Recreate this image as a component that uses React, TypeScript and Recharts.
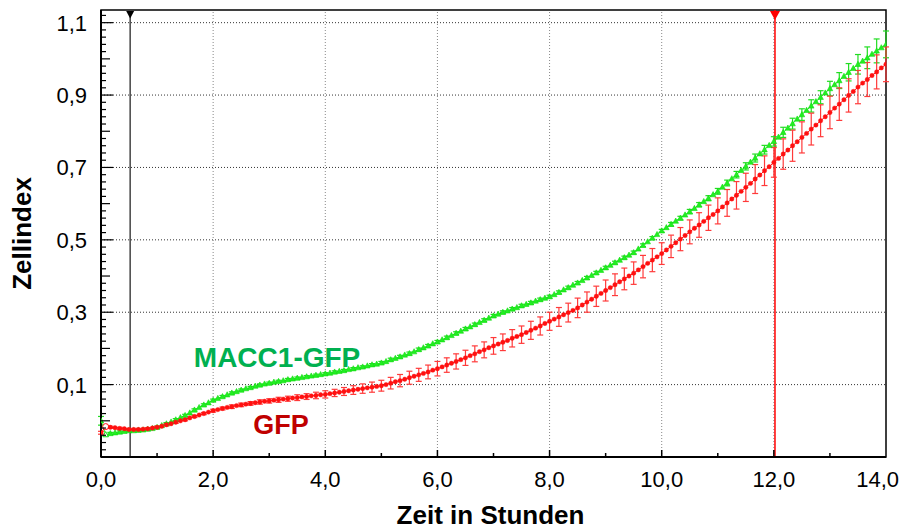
import React from 'react';
import { LineChart, Line, XAxis, YAxis, ErrorBar, ReferenceLine, ReferenceArea, ReferenceDot } from 'recharts';

// one reading every 5 minutes, 0 h .. 14 h
const STEP_HOURS = 5 / 60;

// GFP (red), one row per hour
const gfp = [
  -0.033, -0.016, -0.018, -0.019, -0.021, -0.022, -0.024, -0.024, -0.024, -0.023, -0.022, -0.020,
  -0.018, -0.015, -0.011, -0.008, -0.004, 0.000, 0.003, 0.008, 0.012, 0.016, 0.020, 0.024,
  0.028, 0.031, 0.034, 0.037, 0.039, 0.042, 0.044, 0.046, 0.048, 0.050, 0.052, 0.054,
  0.055, 0.057, 0.058, 0.060, 0.061, 0.063, 0.064, 0.066, 0.067, 0.069, 0.070, 0.072,
  0.073, 0.075, 0.077, 0.079, 0.081, 0.083, 0.085, 0.087, 0.089, 0.091, 0.093, 0.095,
  0.097, 0.100, 0.104, 0.108, 0.111, 0.115, 0.119, 0.123, 0.127, 0.131, 0.135, 0.140,
  0.144, 0.149, 0.154, 0.159, 0.164, 0.169, 0.174, 0.180, 0.185, 0.191, 0.196, 0.202,
  0.207, 0.212, 0.217, 0.222, 0.228, 0.233, 0.238, 0.244, 0.250, 0.256, 0.262, 0.269,
  0.275, 0.281, 0.287, 0.293, 0.299, 0.305, 0.312, 0.320, 0.328, 0.336, 0.344, 0.352,
  0.360, 0.368, 0.376, 0.384, 0.392, 0.400, 0.408, 0.417, 0.426, 0.435, 0.444, 0.453,
  0.462, 0.472, 0.482, 0.492, 0.502, 0.512, 0.522, 0.532, 0.541, 0.551, 0.561, 0.570,
  0.580, 0.591, 0.602, 0.613, 0.623, 0.634, 0.645, 0.656, 0.668, 0.679, 0.691, 0.702,
  0.714, 0.725, 0.737, 0.748, 0.760, 0.771, 0.783, 0.794, 0.806, 0.817, 0.829, 0.840,
  0.852, 0.864, 0.875, 0.887, 0.899, 0.910, 0.922, 0.933, 0.943, 0.954, 0.964, 0.975,
  0.985,
];

// GFP standard deviation, every second reading (10 min)
const gfpErr = [
  0.004, 0.003, 0.003, 0.003, 0.003, 0.003,
  0.003, 0.003, 0.003, 0.003, 0.003, 0.003,
  0.004, 0.004, 0.005, 0.005, 0.005, 0.006,
  0.006, 0.007, 0.007, 0.008, 0.008, 0.009,
  0.010, 0.010, 0.011, 0.012, 0.013, 0.014,
  0.015, 0.016, 0.017, 0.018, 0.018, 0.019,
  0.020, 0.020, 0.021, 0.021, 0.022, 0.022,
  0.023, 0.023, 0.024, 0.024, 0.025, 0.025,
  0.025, 0.026, 0.026, 0.027, 0.028, 0.028,
  0.029, 0.030, 0.030, 0.031, 0.031, 0.032,
  0.030, 0.031, 0.032, 0.033, 0.034, 0.035,
  0.036, 0.037, 0.038, 0.039, 0.040, 0.041,
  0.041, 0.042, 0.043, 0.043, 0.044, 0.044,
  0.045, 0.045, 0.046, 0.046, 0.047, 0.047,
  0.048,
];

// MACC1-GFP (green)
const maccGfp = [
  0.000, -0.038, -0.035, -0.033, -0.031, -0.029, -0.027, -0.027, -0.026, -0.025, -0.023, -0.021,
  -0.018, -0.013, -0.008, -0.003, 0.003, 0.009, 0.015, 0.022, 0.030, 0.037, 0.044, 0.050,
  0.057, 0.062, 0.067, 0.072, 0.077, 0.081, 0.085, 0.089, 0.092, 0.096, 0.099, 0.102,
  0.104, 0.107, 0.109, 0.111, 0.114, 0.116, 0.118, 0.120, 0.122, 0.124, 0.126, 0.128,
  0.130, 0.132, 0.135, 0.137, 0.139, 0.142, 0.144, 0.147, 0.149, 0.152, 0.155, 0.157,
  0.160, 0.164, 0.169, 0.173, 0.177, 0.182, 0.186, 0.191, 0.197, 0.202, 0.207, 0.213,
  0.218, 0.224, 0.230, 0.236, 0.242, 0.248, 0.254, 0.260, 0.266, 0.272, 0.278, 0.284,
  0.290, 0.295, 0.300, 0.304, 0.309, 0.313, 0.318, 0.322, 0.326, 0.331, 0.335, 0.339,
  0.343, 0.349, 0.355, 0.362, 0.368, 0.375, 0.381, 0.388, 0.395, 0.402, 0.409, 0.416,
  0.423, 0.430, 0.437, 0.444, 0.451, 0.458, 0.465, 0.475, 0.485, 0.495, 0.505, 0.515,
  0.525, 0.534, 0.543, 0.552, 0.560, 0.569, 0.578, 0.587, 0.597, 0.606, 0.615, 0.625,
  0.634, 0.646, 0.657, 0.669, 0.680, 0.692, 0.703, 0.715, 0.726, 0.738, 0.749, 0.761,
  0.772, 0.784, 0.797, 0.809, 0.821, 0.834, 0.846, 0.858, 0.870, 0.882, 0.894, 0.906,
  0.918, 0.929, 0.940, 0.952, 0.963, 0.974, 0.985, 0.994, 1.003, 1.013, 1.022, 1.031,
  1.040,
];

const maccGfpErr = [
  0.012, 0.003, 0.003, 0.003, 0.003, 0.003,
  0.003, 0.003, 0.003, 0.003, 0.003, 0.003,
  0.003, 0.003, 0.003, 0.003, 0.003, 0.003,
  0.003, 0.003, 0.003, 0.003, 0.003, 0.003,
  0.003, 0.003, 0.003, 0.003, 0.003, 0.003,
  0.004, 0.004, 0.004, 0.004, 0.004, 0.004,
  0.004, 0.004, 0.004, 0.004, 0.004, 0.004,
  0.004, 0.004, 0.004, 0.004, 0.004, 0.004,
  0.004, 0.004, 0.004, 0.004, 0.004, 0.004,
  0.004, 0.004, 0.004, 0.004, 0.004, 0.004,
  0.004, 0.005, 0.005, 0.006, 0.006, 0.007,
  0.008, 0.008, 0.009, 0.010, 0.011, 0.012,
  0.013, 0.014, 0.015, 0.016, 0.017, 0.018,
  0.020, 0.022, 0.024, 0.027, 0.030, 0.033,
  0.037,
];

const xTicks = [0, 1, 2, 3, 4, 5, 6, 7, 8, 9, 10, 11, 12, 13, 14];
const xGridTicks = [2, 4, 6, 8, 10, 12];
const yLabelTicks = [0.1, 0.3, 0.5, 0.7, 0.9, 1.1];
// minor ticks every 0.02
const yTicks = Array.from({ length: 62 }, (_, i) => Math.round((-0.1 + i * 0.02) * 100) / 100);
const startMarker = 0.52;
const endMarker = 12.02;

const data = gfp.map((v, i) => ({
  t: i * STEP_HOURS,
  gfp: v,
  macc: maccGfp[i],
  gfpErr: i % 2 === 0 ? gfpErr[i / 2] : undefined,
  maccErr: i % 2 === 0 ? maccGfpErr[i / 2] : undefined,
}));

const fmt = (v: number) => v.toFixed(1).replace('.', ',');
const FONT = '"Liberation Sans", Arial, sans-serif';

const BottomTick = (props: any) => {
  const { x, y, payload } = props;
  const major = payload.value % 2 === 0;
  const last = payload.value === 14;
  return (
    <g>
      {payload.value > 0 && !last && (
        <line x1={x} x2={x} y1={y} y2={y - (major ? 7 : 4)} stroke="#000" strokeWidth={1.5} />
      )}
      {major && (
        <text x={last ? x + 13 : x} y={y + 30} textAnchor={last ? 'end' : 'middle'} fontSize={22} fill="#000">
          {fmt(payload.value)}
        </text>
      )}
    </g>
  );
};

const TopTick = (props: any) => {
  const { x, y, payload } = props;
  if (payload.value <= 0 || payload.value >= 14) return <g />;
  const major = payload.value % 2 === 0;
  return <line x1={x} x2={x} y1={y} y2={y + (major ? 9 : 5)} stroke="#000" strokeWidth={1.2} />;
};

const LeftTick = (props: any) => {
  const { x, y, payload } = props;
  const k = Math.round(payload.value * 100);
  if (k <= -10) return <g />;
  const labeled = Math.abs(k % 20) === 10;
  const medium = k % 10 === 0;
  const len = labeled ? 12 : medium ? 9 : 5;
  return (
    <g>
      <line x1={x} x2={x + len} y1={y} y2={y} stroke="#000" strokeWidth={1.2} />
      {labeled && (
        <text x={x - 14} y={y + 8} textAnchor="end" fontSize={22} fill="#000">
          {fmt(payload.value)}
        </text>
      )}
    </g>
  );
};

const GreenDot = (props: any) => {
  const { cx, cy, index } = props;
  if (cx == null || cy == null) return <g key={`g${index}`} />;
  const open = index === 1;
  return (
    <polygon
      key={`g${index}`}
      points={`${cx - 2.8},${cy + 2.2} ${cx + 2.8},${cy + 2.2} ${cx},${cy - 3}`}
      fill={open ? '#fff' : '#22ee22'}
      stroke="#11dd11"
      strokeWidth={open ? 1 : 0.6}
    />
  );
};

const RedDot = (props: any) => {
  const { cx, cy, index } = props;
  if (cx == null || cy == null) return <g key={`r${index}`} />;
  const open = index === 1;
  return (
    <circle
      key={`r${index}`}
      cx={cx}
      cy={cy}
      r={open ? 3 : 2.2}
      fill={open ? '#fff' : '#ff1010'}
      stroke="#ff1010"
      strokeWidth={open ? 1 : 0.4}
    />
  );
};

const triangle = (color: string, size: number) => (props: any) => {
  const { viewBox } = props;
  const x = viewBox.x;
  const y = viewBox.y;
  return (
    <polygon
      points={`${x - size},${y + 1} ${x + size},${y + 1} ${x},${y + 2 + size * 1.6}`}
      fill={color}
    />
  );
};

export default function App() {
  return (
    <div style={{ position: 'absolute', left: 0, top: 0, width: 902, height: 531, background: '#fff', fontFamily: FONT }}>
      <LineChart width={902} height={531} data={data} margin={{ top: 10, right: 16, bottom: 0, left: 0 }}>
        <XAxis
          dataKey="t"
          type="number"
          domain={[0, 14]}
          ticks={xTicks}
          interval={0}
          allowDataOverflow
          height={74}
          tickSize={0}
          tickMargin={0}
          tickLine={false}
          axisLine={{ stroke: '#000', strokeWidth: 2 }}
          tick={<BottomTick />}
          label={{
            content: (p: any) => (
              <text
                x={p.viewBox.x + p.viewBox.width / 2 - 3}
                y={p.viewBox.y + 67}
                textAnchor="middle"
                fontSize={26}
                fontWeight="bold"
                fill="#000"
              >
                Zeit in Stunden
              </text>
            ),
          }}
        />
        <XAxis
          xAxisId="top"
          orientation="top"
          type="number"
          domain={[0, 14]}
          ticks={xTicks}
          interval={0}
          height={0}
          tickSize={0}
          tickMargin={0}
          tickLine={false}
          axisLine={false}
          tick={<TopTick />}
        />
        <YAxis
          type="number"
          domain={[-0.1, 1.135]}
          ticks={yTicks}
          interval={0}
          allowDataOverflow
          width={101}
          tickSize={0}
          tickMargin={0}
          tickLine={false}
          axisLine={{ stroke: '#000', strokeWidth: 2 }}
          tick={<LeftTick />}
          label={{
            content: (p: any) => {
              const cx = p.viewBox.x + 31;
              const cy = p.viewBox.y + p.viewBox.height / 2;
              return (
                <text
                  x={cx}
                  y={cy}
                  transform={`rotate(-90 ${cx} ${cy})`}
                  textAnchor="middle"
                  fontSize={26}
                  fontWeight="bold"
                  fill="#000"
                >
                  Zellindex
                </text>
              );
            },
          }}
        />

        {yLabelTicks.map((v) => (
          <ReferenceLine key={`hy${v}`} y={v} stroke="#333" strokeDasharray="1 2" />
        ))}
        {xGridTicks.map((v) => (
          <ReferenceLine key={`vx${v}`} x={v} stroke="#888" strokeDasharray="1 2" />
        ))}
        <ReferenceArea x1={0} x2={14} y1={-0.1} y2={1.135} fill="none" stroke="#000" strokeWidth={1.5} />

        <ReferenceLine x={startMarker} stroke="#444" strokeWidth={1.5} label={{ content: triangle('#000', 4) }} />
        <ReferenceLine x={endMarker} stroke="#ff0000" strokeWidth={1.5} label={{ content: triangle('#ff0000', 5) }} />

        <Line
          type="linear"
          dataKey="macc"
          stroke="#22ee22"
          strokeWidth={1}
          dot={GreenDot}
          activeDot={false}
          isAnimationActive={false}
        >
          <ErrorBar dataKey="maccErr" direction="y" width={3} stroke="#22dd22" strokeWidth={1.2} isAnimationActive={false} />
        </Line>
        <Line
          type="linear"
          dataKey="gfp"
          stroke="#ff1010"
          strokeWidth={1}
          dot={RedDot}
          activeDot={false}
          isAnimationActive={false}
        >
          <ErrorBar dataKey="gfpErr" direction="y" width={3} stroke="#ff3a3a" strokeWidth={1.2} isAnimationActive={false} />
        </Line>

        <ReferenceDot
          x={3.14}
          y={0.177}
          r={0}
          fill="none"
          stroke="none"
          label={{ value: 'MACC1-GFP', position: 'center', fill: '#00b050', fontSize: 28, fontWeight: 'bold' }}
        />
        <ReferenceDot
          x={3.21}
          y={-0.011}
          r={0}
          fill="none"
          stroke="none"
          label={{ value: 'GFP', position: 'center', fill: '#c00000', fontSize: 27, fontWeight: 'bold' }}
        />
      </LineChart>
    </div>
  );
}
